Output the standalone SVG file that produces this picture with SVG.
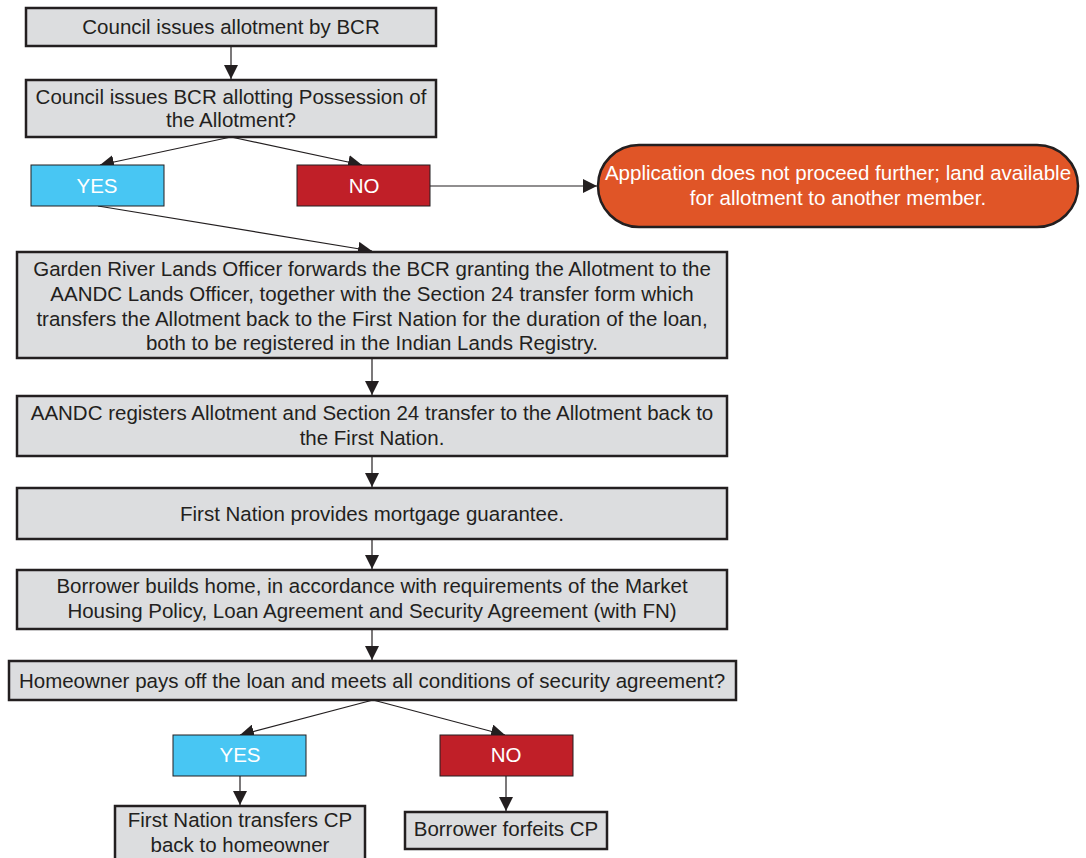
<svg xmlns="http://www.w3.org/2000/svg" width="1086" height="858" viewBox="0 0 1086 858">
<style>
.box{fill:#dcdddf;stroke:#231f20;stroke-width:2.5}
.yes{fill:#48c6f3;stroke:#231f20;stroke-width:1}
.no{fill:#c01f28;stroke:#231f20;stroke-width:1}
.term{fill:#e05527;stroke:#231f20;stroke-width:2.5}
text{font-family:"Liberation Sans",Arial,sans-serif;font-size:20.5px;text-anchor:middle;fill:#231f20}
.w{fill:#ffffff}
.c line{stroke:#231f20;stroke-width:1.2;marker-end:url(#ah)}
</style>
<defs>
<marker id="ah" viewBox="0 0 10 10" refX="10" refY="5" markerWidth="14" markerHeight="14" markerUnits="userSpaceOnUse" orient="auto">
<path d="M0,0 L10,5 L0,10 z" fill="#231f20"/>
</marker>
</defs>
<g class="c">
<line x1="231" y1="46" x2="231" y2="79"/>
<line x1="231" y1="137" x2="100" y2="165"/>
<line x1="231" y1="137" x2="362" y2="165"/>
<line x1="430" y1="186" x2="597" y2="186"/>
<line x1="98" y1="206" x2="372" y2="251"/>
<line x1="372" y1="358" x2="372" y2="395"/>
<line x1="372" y1="456" x2="372" y2="487"/>
<line x1="372" y1="539" x2="372" y2="569"/>
<line x1="372" y1="629" x2="372" y2="660"/>
<line x1="373" y1="700" x2="240" y2="735"/>
<line x1="373" y1="700" x2="505" y2="735"/>
<line x1="240" y1="776" x2="240" y2="805"/>
<line x1="506" y1="776" x2="506" y2="811"/>
</g>
<g id="n1"><rect class="box" x="26" y="8" width="410" height="38"/><text x="231" y="34">Council issues allotment by BCR</text></g>
<g id="n2"><rect class="box" x="26" y="80" width="410" height="57"/><text x="231" y="104">Council issues BCR allotting Possession of</text><text x="231" y="127">the Allotment?</text></g>
<g id="yes1"><rect class="yes" x="31" y="165" width="133" height="41"/><text class="w" x="97" y="193">YES</text></g>
<g id="no1"><rect class="no" x="297" y="165" width="133" height="41"/><text class="w" x="364" y="193">NO</text></g>
<g id="end1"><rect class="term" x="598" y="145" width="480" height="82" rx="41" ry="41"/><text class="w" x="838" y="180">Application does not proceed further; land available</text><text class="w" x="838" y="205">for allotment to another member.</text></g>
<g id="n3"><rect class="box" x="17" y="252" width="710" height="106"/><text x="372" y="276">Garden River Lands Officer forwards the BCR granting the Allotment to the</text><text x="372" y="301">AANDC Lands Officer, together with the Section 24 transfer form which</text><text x="372" y="326">transfers the Allotment back to the First Nation for the duration of the loan,</text><text x="372" y="350">both to be registered in the Indian Lands Registry.</text></g>
<g id="n4"><rect class="box" x="17" y="396" width="710" height="60"/><text x="372" y="420">AANDC registers Allotment and Section 24 transfer to the Allotment back to</text><text x="372" y="445">the First Nation.</text></g>
<g id="n5"><rect class="box" x="17" y="488" width="710" height="51"/><text x="372" y="521">First Nation provides mortgage guarantee.</text></g>
<g id="n6"><rect class="box" x="17" y="570" width="710" height="59"/><text x="372" y="593">Borrower builds home, in accordance with requirements of the Market</text><text x="372" y="618">Housing Policy, Loan Agreement and Security Agreement (with FN)</text></g>
<g id="n7"><rect class="box" x="9" y="661" width="727" height="39"/><text x="372" y="688">Homeowner pays off the loan and meets all conditions of security agreement?</text></g>
<g id="yes2"><rect class="yes" x="173" y="735" width="133" height="41"/><text class="w" x="240" y="762">YES</text></g>
<g id="no2"><rect class="no" x="440" y="735" width="133" height="41"/><text class="w" x="506" y="762">NO</text></g>
<g id="n8"><rect class="box" x="115" y="806" width="250" height="56"/><text x="240" y="827">First Nation transfers CP</text><text x="240" y="852">back to homeowner</text></g>
<g id="n9"><rect class="box" x="405" y="812" width="202" height="37"/><text x="506" y="836">Borrower forfeits CP</text></g>
</svg>
